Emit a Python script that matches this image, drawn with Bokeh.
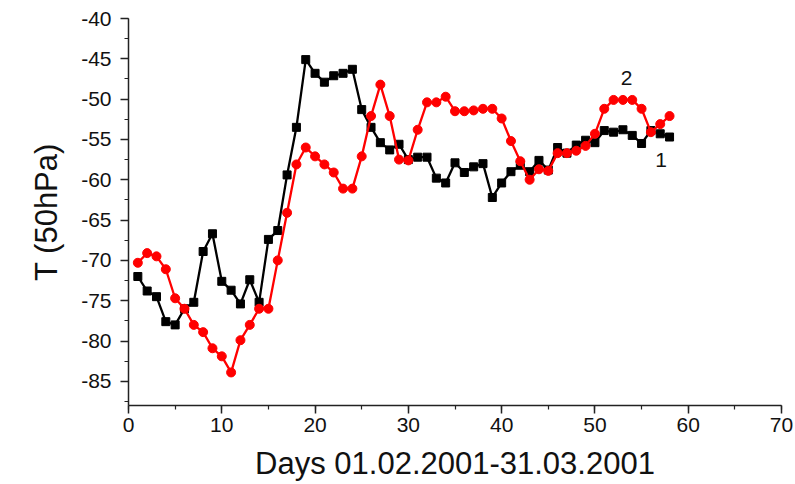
from bokeh.plotting import figure
from bokeh.models import Range1d, FixedTicker, ColumnDataSource
from bokeh.core.properties import value
from bokeh.embed import file_html
from bokeh.resources import INLINE

days = list(range(1, 59))
series1 = [-72.0, -73.8, -74.5, -77.6, -78.0, -76.0, -75.2, -68.9, -66.7, -72.6,
           -73.7, -75.4, -72.4, -75.2, -67.4, -66.3, -59.4, -53.5, -45.1, -46.8,
           -47.9, -47.1, -46.8, -46.3, -51.3, -53.5, -55.4, -56.3, -55.6, -57.5,
           -57.2, -57.2, -59.8, -60.4, -57.9, -59.1, -58.4, -58.0, -62.2, -60.4,
           -59.0, -58.2, -59.0, -57.6, -58.8, -56.0, -56.7, -55.7, -55.1, -55.4,
           -53.9, -54.1, -53.8, -54.5, -55.5, -53.9, -54.3, -54.7]
series2 = [-70.3, -69.1, -69.5, -71.1, -74.7, -76.0, -78.0, -78.9, -80.9, -81.9,
           -83.9, -79.9, -78.0, -76.0, -76.0, -70.0, -64.1, -58.1, -56.0, -57.1,
           -58.1, -59.1, -61.1, -61.1, -57.1, -52.1, -48.2, -52.1, -57.5, -57.6,
           -53.8, -50.4, -50.4, -49.7, -51.5, -51.5, -51.4, -51.2, -51.2, -52.4,
           -55.2, -57.7, -60.0, -58.7, -58.9, -56.7, -56.7, -56.4, -55.8, -54.3,
           -51.2, -50.1, -50.1, -50.1, -51.2, -54.1, -53.1, -52.1]

x_ticks = [0, 10, 20, 30, 40, 50, 60, 70]
y_ticks = [-85, -80, -75, -70, -65, -60, -55, -50, -45, -40]

label_text = ["2", "1"]
label_x = [53.4, 57.1]
label_y = [-47.4, -57.6]

FONT = "Liberation Sans"

p = figure(width=795, height=484, output_backend="svg", toolbar_location=None,
           x_range=Range1d(0, 70), y_range=Range1d(-88, -40))
p.min_border_left = 128
p.min_border_right = 14
p.min_border_top = 18
p.min_border_bottom = 79
p.outline_line_color = None
p.grid.visible = False
p.background_fill_color = "white"
p.border_fill_color = "white"

p.xaxis.ticker = FixedTicker(ticks=x_ticks, minor_ticks=list(range(0, 71, 5)))
p.yaxis.ticker = FixedTicker(ticks=y_ticks, minor_ticks=[-87.5 + 2.5 * i for i in range(20)])
p.xaxis.major_label_overrides = {t: str(t) for t in x_ticks}
p.yaxis.major_label_overrides = {t: str(t) for t in y_ticks}

for ax in (p.xaxis[0], p.yaxis[0]):
    ax.axis_line_width = 1.5
    ax.axis_line_color = "#222222"
    ax.major_tick_line_color = "#222222"
    ax.minor_tick_line_color = "#222222"
    ax.major_tick_line_width = 1.5
    ax.minor_tick_line_width = 1.2
    ax.major_tick_out = 8
    ax.major_tick_in = 0
    ax.minor_tick_out = 4
    ax.minor_tick_in = 0
    ax.major_label_text_font = FONT
    ax.major_label_text_font_size = "21px"
    ax.major_label_text_color = "#111111"
    ax.axis_label_text_font = FONT
    ax.axis_label_text_font_style = "normal"
    ax.axis_label_text_font_size = "31px"
    ax.axis_label_text_color = "#111111"

p.xaxis.axis_label = "Days 01.02.2001-31.03.2001"
p.yaxis.axis_label = "T (50hPa)"
p.xaxis.major_label_standoff = 4
p.yaxis.major_label_standoff = 9
p.xaxis.axis_label_standoff = 11
p.yaxis.axis_label_standoff = 14

src = ColumnDataSource(dict(x=days, s1=series1, s2=series2))

p.line("x", "s1", source=src, line_color="black", line_width=2.3)
p.scatter("x", "s1", source=src, marker="square", size=8, fill_color="black", line_color="black")
p.line("x", "s2", source=src, line_color="#ff0000", line_width=2.3)
p.scatter("x", "s2", source=src, marker="circle", size=9, fill_color="#ff0000", line_color="#ff0000")

lsrc = ColumnDataSource(dict(x=label_x, y=label_y, t=label_text))
p.text("x", "y", text="t", source=lsrc, text_font=value(FONT), text_font_size="21px",
       text_align="center", text_baseline="middle", text_color="#111111")

open("out.html", "w").write(file_html(p, INLINE))
